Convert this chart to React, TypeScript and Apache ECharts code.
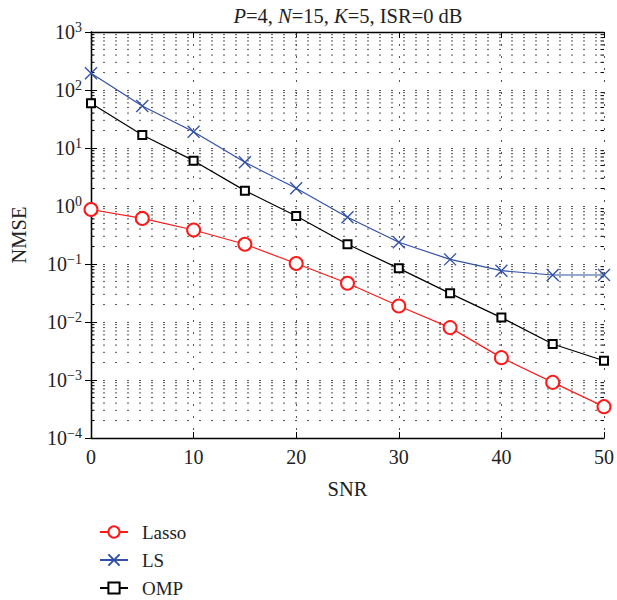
import React, { useEffect, useRef } from 'react';
import * as echarts from 'echarts';

const snr = [0, 5, 10, 15, 20, 25, 30, 35, 40, 45, 50];
const lasso = [0.87, 0.61, 0.386, 0.219, 0.102, 0.0465, 0.0189, 0.008, 0.00243, 0.00091, 0.000347];
const ls = [194, 53, 19.1, 5.67, 2.02, 0.638, 0.237, 0.12, 0.0767, 0.0646, 0.0646];
const omp = [58.9, 16.7, 6.05, 1.84, 0.673, 0.219, 0.0841, 0.0312, 0.0119, 0.00418, 0.00215];

const xTicks = [0, 10, 20, 30, 40, 50];
const decadeExponents = [-4, -3, -2, -1, 0, 1, 2];
const minorMultipliers = [2, 3, 4, 5, 6, 7, 8, 9];
const minorY: number[] = [];
decadeExponents.forEach((e) => minorMultipliers.forEach((m) => minorY.push(m * Math.pow(10, e))));

const FONT = '"Liberation Serif", "Times New Roman", serif';
const DOT = [2, 10];
const GRID_COLOR = '#555';

export default function App() {
  const ref = useRef<HTMLDivElement>(null);
  useEffect(() => {
    const chart = echarts.init(ref.current!, null, { renderer: 'svg' });
    const xMin = xTicks[0];
    const xMax = xTicks[xTicks.length - 1];
    const option: any = {
      animation: false,
      backgroundColor: '#fff',
      title: {
        text: '{i|P}=4, {i|N}=15, {i|K}=5, ISR=0 dB',
        left: 343,
        top: 0,
        textAlign: 'center',
        textStyle: {
          fontFamily: FONT,
          fontSize: 20.5,
          fontWeight: 'normal',
          color: '#222',
          rich: { i: { fontFamily: FONT, fontSize: 20.5, fontStyle: 'italic', color: '#222' } },
        },
      },
      legend: {
        orient: 'vertical',
        left: 99,
        top: 522,
        height: 90,
        padding: 0,
        itemWidth: 28,
        itemHeight: 14,
        itemGap: 8,
        data: ['Lasso', 'LS', 'OMP'],
        textStyle: { fontFamily: FONT, fontSize: 19, lineHeight: 20, color: '#222', padding: [0, 0, 0, 9] },
      },
      grid: { left: 90, right: 10, top: 32, bottom: 162 },
      xAxis: [
        {
          type: 'value',
          min: xMin,
          max: xMax,
          interval: 10,
          position: 'bottom',
          name: 'SNR',
          nameLocation: 'middle',
          nameGap: 40,
          nameTextStyle: { fontFamily: FONT, fontSize: 20.5, color: '#222' },
          axisLine: { show: true, lineStyle: { color: '#000', width: 1.3 } },
          axisTick: { show: true, inside: true, length: 6, lineStyle: { color: '#000', width: 1 } },
          axisLabel: { fontFamily: FONT, fontSize: 20, color: '#222', margin: 9 },
          splitLine: { show: true, lineStyle: { color: GRID_COLOR, type: DOT, width: 1 } },
        },
        {
          type: 'value',
          min: xMin,
          max: xMax,
          interval: 10,
          position: 'top',
          axisLine: { show: true, lineStyle: { color: '#000', width: 1.3 } },
          axisTick: { show: true, inside: true, length: 6, lineStyle: { color: '#000', width: 1 } },
          axisLabel: { show: false },
          splitLine: { show: false },
        },
      ],
      yAxis: [
        {
          type: 'log',
          logBase: 10,
          min: 1e-4,
          max: 1e3,
          interval: 1,
          position: 'left',
          name: 'NMSE',
          nameLocation: 'middle',
          nameGap: 62,
          nameTextStyle: { fontFamily: FONT, fontSize: 20.5, color: '#222' },
          axisLine: { show: true, lineStyle: { color: '#000', width: 1.3 } },
          axisTick: { show: true, inside: true, length: 6, lineStyle: { color: '#000', width: 1 } },
          axisLabel: {
            fontFamily: FONT,
            fontSize: 20,
            color: '#222',
            margin: 9,
            formatter: (v: number) => {
              const e = Math.round(Math.log10(v));
              return '10{sup|' + (e < 0 ? '\u2212' + -e : String(e)) + '}';
            },
            rich: { sup: { fontFamily: FONT, fontSize: 14, color: '#222', padding: [0, 0, 10, 0] } },
          },
          splitLine: { show: true, lineStyle: { color: GRID_COLOR, type: DOT, width: 1 } },
        },
        {
          type: 'log',
          logBase: 10,
          min: 1e-4,
          max: 1e3,
          interval: 1,
          position: 'right',
          axisLine: { show: true, lineStyle: { color: '#000', width: 1.3 } },
          axisTick: { show: true, inside: true, length: 6, lineStyle: { color: '#000', width: 1 } },
          axisLabel: { show: false },
          splitLine: { show: false },
        },
      ],
      series: [
        {
          type: 'custom',
          name: 'minorGrid',
          silent: true,
          xAxisIndex: 0,
          yAxisIndex: 0,
          z: 1,
          encode: { x: 0, y: 1 },
          data: minorY.map((v) => [xMin, v]),
          renderItem: (_p: any, api: any) => {
            const v = api.value(1);
            const a = api.coord([xMin, v]);
            const b = api.coord([xMax, v]);
            return {
              type: 'group',
              children: [
                {
                  type: 'line',
                  shape: { x1: a[0], y1: a[1], x2: b[0], y2: b[1] },
                  style: { stroke: GRID_COLOR, lineWidth: 1, lineDash: DOT },
                },
                {
                  type: 'line',
                  shape: { x1: a[0], y1: a[1], x2: a[0] + 3.5, y2: a[1] },
                  style: { stroke: '#000', lineWidth: 1 },
                },
                {
                  type: 'line',
                  shape: { x1: b[0] - 3.5, y1: b[1], x2: b[0], y2: b[1] },
                  style: { stroke: '#000', lineWidth: 1 },
                },
              ],
            };
          },
        },
        {
          name: 'Lasso',
          type: 'line',
          data: snr.map((x, i) => [x, lasso[i]]),
          symbol: 'emptyCircle',
          symbolSize: 13,
          clip: false,
          z: 3,
          lineStyle: { color: '#ff1a1a', width: 1.2 },
          itemStyle: { color: '#ff1a1a', borderColor: '#ff1a1a', borderWidth: 1.2 },
        },
        {
          name: 'LS',
          type: 'line',
          data: snr.map((x, i) => [x, ls[i]]),
          symbol: 'path://M0,0L10,10M10,0L0,10',
          symbolSize: 12,
          clip: false,
          z: 3,
          lineStyle: { color: '#3050a8', width: 1.2 },
          itemStyle: { color: '#3050a8', borderColor: '#3050a8', borderWidth: 1.3 },
        },
        {
          name: 'OMP',
          type: 'line',
          data: snr.map((x, i) => [x, omp[i]]),
          symbol: 'emptyRect',
          symbolSize: 8,
          clip: false,
          z: 3,
          lineStyle: { color: '#000', width: 1.2 },
          itemStyle: { color: '#000', borderColor: '#000', borderWidth: 1.2 },
        },
      ],
    };
    chart.setOption(option);
    return () => chart.dispose();
  }, []);
  return <div ref={ref} style={{ position: 'fixed', left: 0, top: 0, width: 617, height: 600 }} />;
}
